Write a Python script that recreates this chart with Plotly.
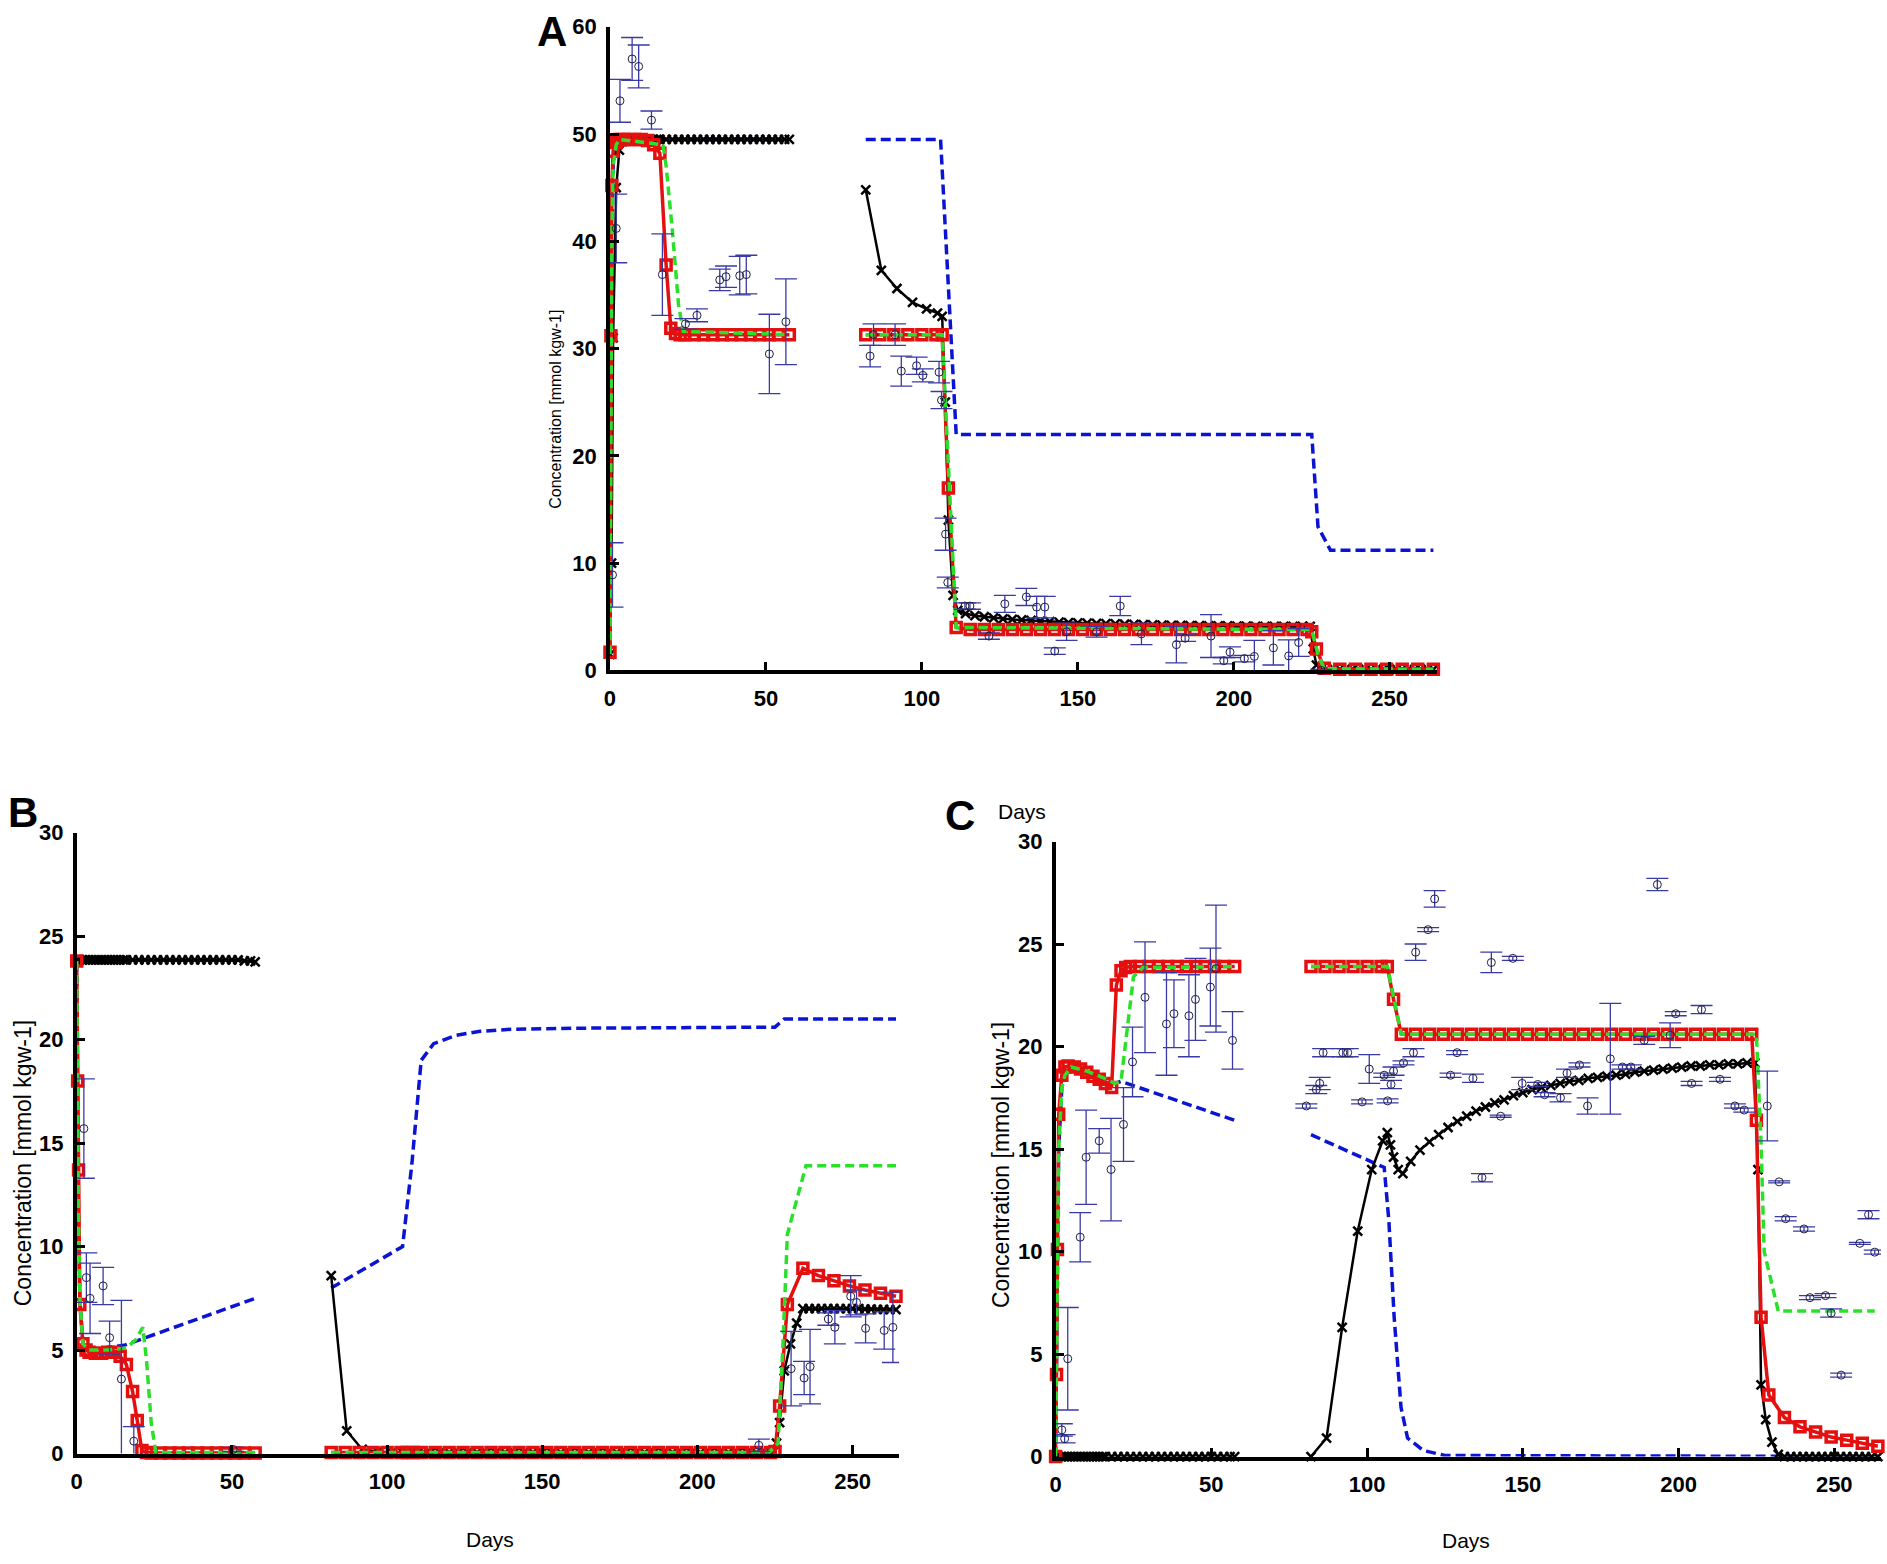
import plotly.graph_objects as go

FONT = "Liberation Sans"

# ---- model time grids (days) ----
t_black_1 = [0, 0.5, 1, 2, 3, 4, 5, 6, 7, 8, 9, 10, 11, 12, 13, 14, 15, 16, 18, 20,
             22, 24, 26, 28, 30, 32, 34, 36, 38, 40, 42, 44, 46, 48, 50, 52, 54, 56, 57.5]
t_black_2 = [82, 87, 92, 97, 101.5, 105, 106.5, 107.5, 108.5, 110,
             111.5, 114, 117, 120, 123, 126, 129, 132, 135, 138,
             141, 144, 147, 150, 153, 156, 159, 162, 165, 168,
             171, 174, 177, 180, 183, 186, 189, 192, 195, 198,
             201, 204, 207, 210, 213, 216, 219, 222, 224.5, 225.5,
             226.5, 228, 230, 232, 234, 236, 238, 240, 242, 244,
             246, 248, 250, 252, 254, 256, 258, 260, 262, 264]
t_red_1 = [0, 0.3, 0.6, 1, 2, 3, 4, 6, 8, 10, 12, 14, 16, 18, 19.5, 21, 22.5, 24, 27, 30,
           33, 36, 39, 42, 45, 48, 51, 54, 57.5]
t_red_2 = [82, 86.5, 91, 95.5, 100, 104.5, 106.5, 108.5, 111, 115.5,
           120, 124.5, 129, 133.5, 138, 142.5, 147, 151.5, 156, 160.5,
           165, 169.5, 174, 178.5, 183, 187.5, 192, 196.5, 201, 205.5,
           210, 214.5, 219, 223.5, 225, 226.5, 229, 234, 239, 244,
           249, 254, 259, 264]

# ---- panel A ----
a_black_1 = [1.5, 10.0, 31.0, 45.0, 48.5, 49.3, 49.5, 49.5, 49.5, 49.5,
             49.5, 49.5, 49.5, 49.5, 49.5, 49.5, 49.5, 49.5, 49.5, 49.5,
             49.5, 49.5, 49.5, 49.5, 49.5, 49.5, 49.5, 49.5, 49.5, 49.5,
             49.5, 49.5, 49.5, 49.5, 49.5, 49.5, 49.5, 49.5, 49.5]
a_black_2 = [44.8, 37.3, 35.6, 34.3, 33.7, 33.3, 33.0, 25.0, 14.0, 7.0,
             5.6, 5.3, 5.1, 5.0, 4.9, 4.8, 4.75, 4.7, 4.65, 4.6,
             4.55, 4.5, 4.45, 4.42, 4.4, 4.38, 4.35, 4.33, 4.3, 4.28,
             4.26, 4.24, 4.22, 4.2, 4.19, 4.18, 4.17, 4.16, 4.15, 4.14,
             4.13, 4.12, 4.11, 4.1, 4.1, 4.1, 4.1, 4.1, 4.1, 2.0,
             0.5, 0.15, 0.1, 0.1, 0.1, 0.1, 0.1, 0.1, 0.1, 0.1,
             0.1, 0.1, 0.1, 0.1, 0.1, 0.1, 0.1, 0.1, 0.1, 0.1]
a_red_1 = [1.7, 31.2, 45.2, 48.4, 49.2, 49.5, 49.5, 49.5, 49.5, 49.5,
           49.4, 49.0, 48.2, 37.8, 31.9, 31.4, 31.3, 31.3, 31.3, 31.3,
           31.3, 31.3, 31.3, 31.3, 31.3, 31.3, 31.3, 31.3, 31.3]
a_red_2 = [31.3, 31.3, 31.3, 31.3, 31.3, 31.3, 31.3, 17.0, 4.0, 3.8,
           3.8, 3.8, 3.8, 3.8, 3.8, 3.8, 3.8, 3.8, 3.8, 3.8,
           3.8, 3.8, 3.8, 3.8, 3.8, 3.8, 3.8, 3.8, 3.8, 3.8,
           3.8, 3.8, 3.8, 3.8, 3.6, 2.0, 0.2, 0.1, 0.1, 0.1,
           0.1, 0.1, 0.1, 0.1]
a_green_1_t = [0, 0.3, 0.6, 1, 2, 3, 17, 18, 20, 22, 23.5, 57.5]
a_green_1 = [1.5, 25.0, 40.0, 47.0, 49.0, 49.5, 49.0, 47.0, 41.0, 34.0, 31.6, 31.3]
a_green_2_t = [82, 106.5, 111, 225, 227, 229, 264]
a_green_2 = [31.3, 31.3, 4.0, 3.8, 1.5, 0.15, 0.1]
a_blue_1_t = [0, 0.3, 0.6, 1, 2, 3, 57.5]
a_blue_1 = [1.5, 25.0, 40.0, 47.0, 49.0, 49.5, 49.5]
a_blue_2_t = [82, 106, 111, 225, 227, 231, 264]
a_blue_2 = [49.5, 49.5, 22.0, 22.0, 13.4, 11.2, 11.2]
a_obs_t = [0.8, 2.0, 3.2, 7.1, 9.2, 13.3, 16.8, 24.2, 27.9, 35.2, 37.2, 41.6, 43.7, 51.1, 56.4,
           83.4, 84.5, 91.4, 93.4, 98.3, 100.3, 105.5, 106.3, 107.6, 108.3, 113.8, 115.4,
           121.5, 126.6, 133.5, 136.8, 139.4, 142.6, 146.4, 156.0, 163.6, 170.4, 181.6,
           184.4, 192.7, 196.8, 198.8, 203.4, 206.6, 212.7, 217.6, 220.8, 228.0]
a_obs = [8.9, 41.2, 53.1, 57.0, 56.3, 51.3, 36.9, 32.3, 33.1, 36.4, 36.7, 36.8, 36.9, 29.5, 32.5,
         29.3, 31.3, 31.3, 27.9, 28.4, 27.5, 27.8, 25.2, 12.7, 8.2, 6.0, 6.0,
         3.2, 6.2, 6.85, 5.9, 5.9, 1.8, 3.6, 3.6, 6.0, 3.4, 2.4,
         3.0, 3.2, 0.9, 1.7, 1.1, 1.3, 2.1, 1.35, 2.6, 0.0]
a_obs_err = [3.0, 3.2, 2.0, 2.0, 2.0, 0.85, 3.8, 0.5, 0.6, 1.0, 1.0, 1.8, 1.8, 3.7, 4.0,
             1.0, 1.0, 1.0, 1.4, 0.8, 0.6, 1.0, 0.8, 1.5, 0.5, 0.3, 0.3,
             0.3, 0.8, 0.8, 1.0, 1.0, 0.3, 0.8, 0.5, 0.9, 1.0, 1.7,
             0.3, 2.0, 0.3, 0.5, 0.3, 1.5, 1.6, 1.5, 1.3, 0.1]

# ---- panel B ----
b_black_1 = [23.85, 23.85, 23.85, 23.85, 23.85, 23.85, 23.85, 23.85, 23.85, 23.85,
             23.85, 23.85, 23.85, 23.85, 23.85, 23.85, 23.85, 23.85, 23.85, 23.85,
             23.85, 23.85, 23.85, 23.85, 23.85, 23.85, 23.85, 23.85, 23.85, 23.85,
             23.85, 23.85, 23.85, 23.85, 23.85, 23.85, 23.8, 23.8, 23.75]
b_black_2 = [8.6, 1.1, 0.2, 0.1, 0.05, 0.05, 0.05, 0.05, 0.05, 0.05,
             0.05, 0.05, 0.05, 0.05, 0.05, 0.05, 0.05, 0.05, 0.05, 0.05,
             0.05, 0.05, 0.05, 0.05, 0.05, 0.05, 0.05, 0.05, 0.05, 0.05,
             0.05, 0.05, 0.05, 0.05, 0.05, 0.05, 0.05, 0.05, 0.05, 0.05,
             0.05, 0.05, 0.05, 0.05, 0.05, 0.05, 0.05, 0.05, 0.1, 0.5,
             1.5, 4.0, 5.3, 6.3, 7.0, 7.0, 7.0, 7.0, 7.0, 7.0,
             7.0, 7.0, 7.0, 7.0, 6.98, 6.98, 6.97, 6.97, 6.96, 6.95]
b_red_1 = [23.8, 18.0, 13.7, 7.2, 5.3, 5.0, 4.9, 4.85, 4.85, 4.9,
           4.9, 4.7, 4.3, 3.0, 1.6, 0.15, 0.05, 0.03, 0.03, 0.03,
           0.03, 0.03, 0.03, 0.03, 0.03, 0.03, 0.03, 0.03, 0.03]
b_red_2 = [0.05, 0.05, 0.05, 0.05, 0.05, 0.05, 0.05, 0.05, 0.05, 0.05,
           0.05, 0.05, 0.05, 0.05, 0.05, 0.05, 0.05, 0.05, 0.05, 0.05,
           0.05, 0.05, 0.05, 0.05, 0.05, 0.05, 0.05, 0.05, 0.05, 0.05,
           0.05, 0.05, 0.05, 0.05, 0.1, 2.3, 7.2, 8.95, 8.6, 8.35,
           8.1, 7.9, 7.75, 7.6]
b_green_1_t = [0, 0.5, 1, 2, 4, 10, 16, 19, 21.3, 22.5, 24, 25.5, 57.5]
b_green_1 = [23.8, 12.0, 7.5, 5.3, 5.0, 5.0, 5.1, 5.5, 6.1, 4.5, 1.5, 0.05, 0.05]
b_green_2_t = [82, 223, 226, 227.5, 229, 235, 264]
b_green_2 = [0.05, 0.05, 0.5, 5.0, 10.6, 13.9, 13.9]
b_blue_1_t = [0, 0.5, 1, 2, 4, 15.7, 57.5]
b_blue_1 = [23.8, 12.0, 7.5, 5.3, 5.0, 5.25, 7.5]
b_blue_2_t = [82, 105, 108, 111, 115, 122, 130, 140, 160, 200, 225, 228, 264]
b_blue_2 = [8.0, 10.0, 14.0, 19.0, 19.8, 20.2, 20.4, 20.5, 20.55, 20.6, 20.6, 21.0, 21.0]
b_obs_t = [2.3, 3.1, 4.3, 8.5, 10.6, 14.4, 18.4, 50.4, 219.8, 230.2, 234.4, 236.3,
           242.2, 244.3, 249.4, 251.3, 254.2, 260.2, 263.0]
b_obs = [15.7, 8.5, 7.5, 8.1, 5.6, 3.6, 0.6, 0.2, 0.4, 4.1, 3.65, 4.2,
         6.5, 6.1, 7.6, 7.3, 6.05, 5.95, 6.1]
b_obs_err = [2.4, 1.2, 1.7, 0.9, 0.8, 3.8, 0.7, 0.1, 0.3, 1.8, 0.8, 1.8,
             0.3, 0.8, 1.0, 0.6, 0.7, 0.9, 1.7]

# ---- panel C ----
c_black_1 = [0.0, 0.0, 0.0, 0.0, 0.0, 0.0, 0.0, 0.0, 0.0, 0.0,
             0.0, 0.0, 0.0, 0.0, 0.0, 0.0, 0.0, 0.0, 0.0, 0.0,
             0.0, 0.0, 0.0, 0.0, 0.0, 0.0, 0.0, 0.0, 0.0, 0.0,
             0.0, 0.0, 0.0, 0.0, 0.0, 0.0, 0.0, 0.0, 0.0]
c_black_2 = [0.0, 0.9, 6.3, 11.0, 14.0, 15.4, 15.8, 15.2, 14.6, 14.0,
             13.8, 14.4, 14.95, 15.35, 15.7, 16.05, 16.35, 16.6, 16.85, 17.05,
             17.25, 17.4, 17.6, 17.75, 17.9, 18.0, 18.1, 18.2, 18.3, 18.35,
             18.45, 18.5, 18.55, 18.6, 18.65, 18.75, 18.8, 18.85, 18.9, 18.95,
             19.0, 19.05, 19.05, 19.1, 19.1, 19.15, 19.15, 19.2, 19.2, 14.0,
             3.5, 1.8, 0.7, 0.1, 0.0, 0.0, 0.0, 0.0, 0.0, 0.0,
             0.0, 0.0, 0.0, 0.0, 0.0, 0.0, 0.0, 0.0, 0.0, 0.0]
c_red_1 = [0.0, 4.0, 10.1, 16.7, 18.6, 19.0, 19.05, 19.0, 18.9, 18.75,
           18.55, 18.4, 18.2, 18.0, 23.0, 23.7, 23.85, 23.9, 23.9, 23.9,
           23.9, 23.9, 23.9, 23.9, 23.9, 23.9, 23.9, 23.9, 23.9]
c_red_2 = [23.9, 23.9, 23.9, 23.9, 23.9, 23.9, 23.9, 22.3, 20.6, 20.6,
           20.6, 20.6, 20.6, 20.6, 20.6, 20.6, 20.6, 20.6, 20.6, 20.6,
           20.6, 20.6, 20.6, 20.6, 20.6, 20.6, 20.6, 20.6, 20.6, 20.6,
           20.6, 20.6, 20.6, 20.6, 16.4, 6.8, 3.0, 1.9, 1.45, 1.2,
           0.95, 0.8, 0.65, 0.5]
c_green_1_t = [0, 0.3, 0.6, 1, 2, 3, 5, 10, 15, 19, 21, 23, 25, 28, 57.5]
c_green_1 = [0.0, 4.0, 9.0, 15.0, 18.0, 18.6, 19.0, 18.8, 18.5, 18.2, 18.3, 21.0, 23.4, 23.85, 23.9]
c_green_2_t = [82, 106.5, 111, 225, 226.5, 227.5, 232, 263]
c_green_2 = [23.9, 23.9, 20.6, 20.6, 15.3, 10.0, 7.1, 7.1]
c_blue_1_t = [0, 0.3, 0.6, 1, 2, 3, 5, 10, 15, 19, 21, 57.5]
c_blue_1 = [0.0, 4.0, 9.0, 15.0, 18.0, 18.6, 19.0, 18.8, 18.5, 18.2, 18.3, 16.4]
c_blue_2_t = [82, 105.5, 107, 108.7, 110.9, 113, 118, 125, 264]
c_blue_2 = [15.7, 14.1, 11.5, 6.8, 2.4, 0.9, 0.3, 0.05, 0.0]
c_obs_t = [2.0, 2.9, 3.9, 7.9, 9.8, 14.0, 17.8, 21.8, 24.7, 28.7, 35.6, 38.0, 42.8, 44.9, 49.7,
           51.5, 56.8, 80.5, 83.7, 84.8, 85.9, 92.2, 93.8, 98.4, 100.7, 105.5, 106.6, 107.7,
           108.5, 111.7, 114.9, 115.6, 119.6, 121.7, 126.8, 128.9, 134.0, 136.9, 139.9,
           142.9, 146.8, 149.8, 154.8, 157.0, 162.1, 164.2, 168.2, 170.8, 178.1, 182.0,
           184.7, 189.0, 193.2, 197.3, 199.1, 204.2, 207.4, 213.3, 218.1, 221.1, 228.5,
           232.3, 234.4, 240.3, 242.2, 247.2, 249.0, 252.2, 258.2, 261.0, 263.0]
c_obs = [1.3, 0.87, 4.77, 10.7, 14.6, 15.4, 14.0, 16.2, 19.25, 22.4, 21.1, 21.6, 21.5, 22.3, 22.9,
         23.8, 20.3, 17.1, 17.9, 18.2, 19.7, 19.7, 19.7, 17.3, 18.9, 18.6, 17.35, 18.15,
         18.8, 19.2, 19.7, 24.6, 25.7, 27.2, 18.6, 19.7, 18.45, 13.6, 24.1,
         16.6, 24.3, 18.2, 18.15, 17.65, 17.5, 18.7, 19.1, 17.1, 19.4, 19.0,
         19.0, 20.3, 27.9, 20.55, 21.6, 18.2, 21.8, 18.4, 17.1, 16.9, 17.1,
         13.4, 11.6, 11.1, 7.75, 7.85, 7.0, 3.97, 10.4, 11.8, 9.97]
c_obs_err = [0.3, 0.2, 2.5, 1.2, 2.3, 0.6, 2.5, 1.8, 1.7, 2.7, 2.5, 1.65, 2.0, 2.0, 1.9,
             3.1, 1.4, 0.1, 0.2, 0.3, 0.2, 0.2, 0.2, 0.1, 0.7, 0.1, 0.1, 0.2,
             0.2, 0.1, 0.2, 0.4, 0.1, 0.4, 0.1, 0.1, 0.2, 0.2, 0.5,
             0.05, 0.1, 0.3, 0.1, 0.1, 0.2, 0.2, 0.1, 0.4, 2.7, 0.1,
             0.1, 0.2, 0.3, 0.6, 0.1, 0.1, 0.2, 0.1, 0.1, 0.1, 1.7,
             0.05, 0.1, 0.1, 0.1, 0.1, 0.2, 0.1, 0.05, 0.2, 0.1]

BLUE = "#0a14d2"
GREEN = "#2be02b"
RED = "#e41010"
ERR = "#3a3aa6"
DOT = "#202040"

fig = go.Figure()


def add_panel(xa, ya, blue, black, red, green, obs):
    for t, v in blue:
        fig.add_trace(go.Scatter(x=t, y=v, mode="lines", xaxis=xa, yaxis=ya,
                                 line=dict(color=BLUE, width=3.5, dash="10px,5px"),
                                 cliponaxis=False))
    for t, v in black:
        fig.add_trace(go.Scatter(x=t, y=v, mode="lines+markers", xaxis=xa, yaxis=ya,
                                 line=dict(color="black", width=2.5),
                                 marker=dict(symbol="x-thin", size=9, color="black",
                                             line=dict(color="black", width=2.5)),
                                 cliponaxis=False))
    for t, v in red:
        fig.add_trace(go.Scatter(x=t, y=v, mode="lines+markers", xaxis=xa, yaxis=ya,
                                 line=dict(color=RED, width=3.5),
                                 marker=dict(symbol="square-open", size=10, color=RED,
                                             line=dict(color=RED, width=3.5)),
                                 cliponaxis=False))
    for t, v in green:
        fig.add_trace(go.Scatter(x=t, y=v, mode="lines", xaxis=xa, yaxis=ya,
                                 line=dict(color=GREEN, width=3.5, dash="9px,5px"),
                                 cliponaxis=False))
    t, v, e = obs
    fig.add_trace(go.Scatter(x=t, y=v, mode="markers", xaxis=xa, yaxis=ya,
                             marker=dict(symbol="circle-open", size=8, color=DOT,
                                         line=dict(color=DOT, width=1)),
                             error_y=dict(type="data", array=e, color=ERR,
                                          thickness=1.3, width=11),
                             cliponaxis=False))


add_panel("x", "y",
          [(a_blue_1_t, a_blue_1), (a_blue_2_t, a_blue_2)],
          [(t_black_1, a_black_1), (t_black_2, a_black_2)],
          [(t_red_1, a_red_1), (t_red_2, a_red_2)],
          [(a_green_1_t, a_green_1), (a_green_2_t, a_green_2)],
          (a_obs_t, a_obs, a_obs_err))
add_panel("x2", "y2",
          [(b_blue_1_t, b_blue_1), (b_blue_2_t, b_blue_2)],
          [(t_black_1, b_black_1), (t_black_2, b_black_2)],
          [(t_red_1, b_red_1), (t_red_2, b_red_2)],
          [(b_green_1_t, b_green_1), (b_green_2_t, b_green_2)],
          (b_obs_t, b_obs, b_obs_err))
add_panel("x3", "y3",
          [(c_blue_1_t, c_blue_1), (c_blue_2_t, c_blue_2)],
          [(t_black_1, c_black_1), (t_black_2, c_black_2)],
          [(t_red_1, c_red_1), (t_red_2, c_red_2)],
          [(c_green_1_t, c_green_1), (c_green_2_t, c_green_2)],
          (c_obs_t, c_obs, c_obs_err))

ax = dict(showline=True, linecolor="black", linewidth=3.5, ticks="inside", ticklen=9,
          tickwidth=2.5, tickcolor="black", showgrid=False, zeroline=False, mirror=False,
          tickfont=dict(family=FONT, size=22, color="black", weight="bold"))
xticks = dict(range=[0, 265], tickvals=[0, 50, 100, 150, 200, 250], ticklabelstandoff=5)

fig.update_layout(
    width=1887, height=1564,
    margin=dict(l=0, r=0, t=0, b=0),
    paper_bgcolor="white", plot_bgcolor="white",
    showlegend=False,
    font=dict(family=FONT, color="black"),
    xaxis=dict(ax, **xticks, domain=[0.3211, 0.7605], anchor="y"),
    yaxis=dict(ax, range=[0, 60], tickvals=[0, 10, 20, 30, 40, 50, 60],
               domain=[0.5722, 0.9904], anchor="x", ticklabelstandoff=5),
    xaxis2=dict(ax, **xticks, domain=[0.0376, 0.4748], anchor="y2"),
    yaxis2=dict(ax, range=[0, 30], tickvals=[0, 5, 10, 15, 20, 25, 30],
                domain=[1 - 1465 / 1564, 0.4668], anchor="x2", ticklabelstandoff=5),
    xaxis3=dict(ax, **xticks, domain=[0.558, 0.9968], anchor="y3"),
    yaxis3=dict(ax, range=[0, 30], tickvals=[0, 5, 10, 15, 20, 25, 30],
                domain=[1 - 1468 / 1564, 0.461], anchor="x3", ticklabelstandoff=5),
)

ytitle = "Concentration [mmol kgw-1]"
notes = [
    dict(text="<b>A</b>", x=548 / 1887, y=1 - 20 / 1564, size=42, angle=0),
    dict(text="<b>B</b>", x=17 / 1887, y=1 - 814 / 1564, size=42, angle=0),
    dict(text="<b>C</b>", x=957 / 1887, y=1 - 817 / 1564, size=42, angle=0),
    dict(text=ytitle, x=551 / 1887, y=1 - 404 / 1564, size=16, angle=-90),
    dict(text=ytitle, x=17 / 1887, y=1 - 1170 / 1564, size=23, angle=-90),
    dict(text=ytitle, x=998 / 1887, y=1 - 1172 / 1564, size=23, angle=-90),
    dict(text="Days", x=486 / 1887, y=1 - 1552 / 1564, size=21, angle=0),
    dict(text="Days", x=1465 / 1887, y=1 - 1553 / 1564, size=21, angle=0),
    dict(text="Days", x=1019 / 1887, y=1 - 812 / 1564, size=21, angle=0),
]
for n in notes:
    fig.add_annotation(text=n["text"], x=n["x"], y=n["y"], xref="paper", yref="paper",
                       xanchor="center", yanchor="middle", showarrow=False,
                       textangle=n["angle"],
                       font=dict(family=FONT, size=n["size"], color="black"))

# drop the browser's default page margin so the figure sits at the top-left corner
fig.write_html("out.html", config={"displayModeBar": False},
               post_script="document.body.style.margin='0px';")
